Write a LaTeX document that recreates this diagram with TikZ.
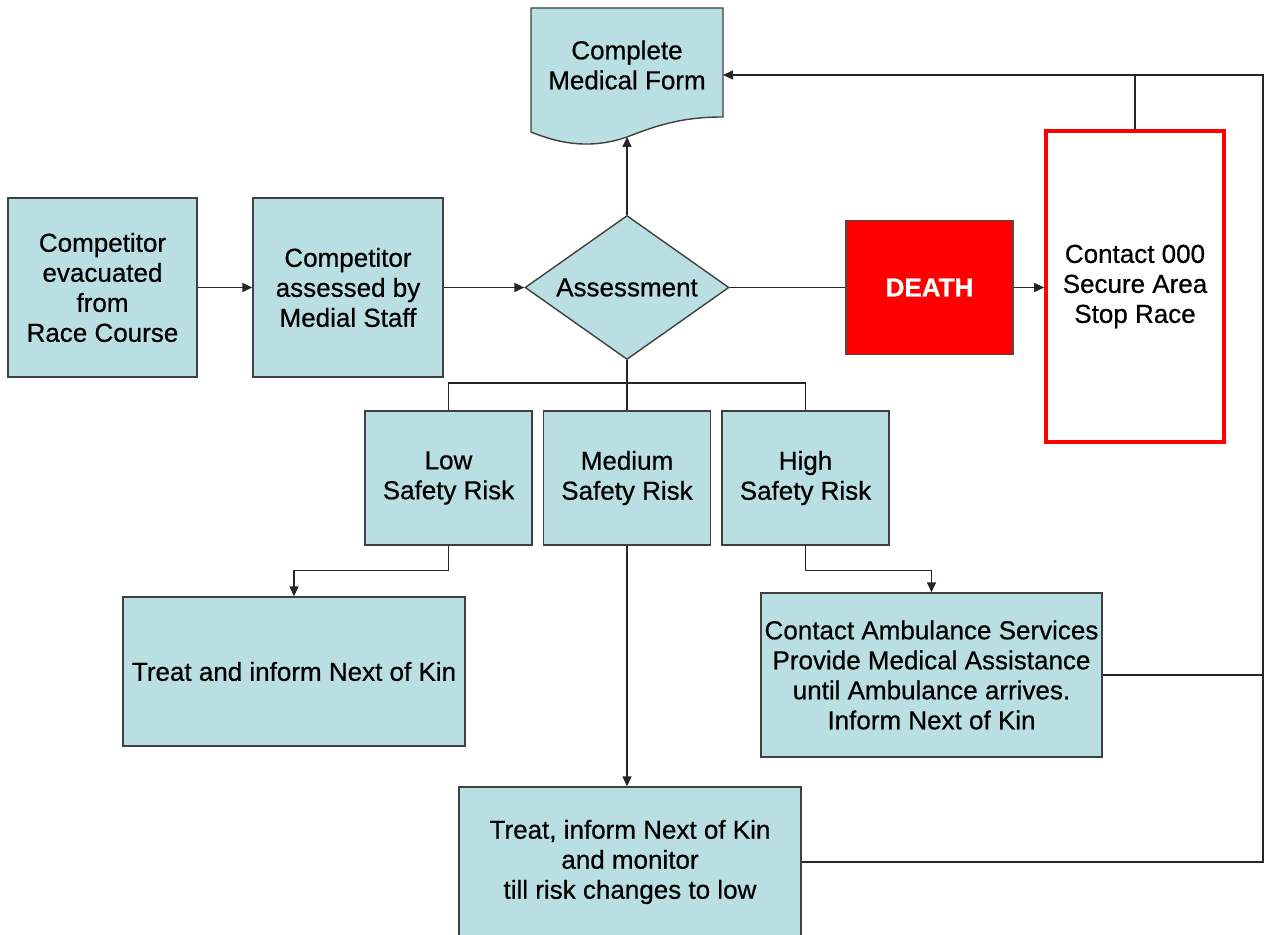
\documentclass[tikz,border=0pt]{standalone}
\usepackage{fontspec}
\setmainfont{Liberation Sans}[FakeBold=0.6]
\usetikzlibrary{shapes.geometric,arrows.meta}
\definecolor{boxfill}{RGB}{185,223,227}
\definecolor{deathred}{RGB}{255,0,0}
\begin{document}
\begin{tikzpicture}[x=0.5pt,y=-0.5pt,
  box/.style={draw=black!75, line width=0.7pt, fill=boxfill, align=center, inner sep=0pt,
    font=\fontsize{13}{15}\selectfont},
  conn/.style={draw=black!85, line width=0.75pt},
  arr/.style={conn, -{Triangle[length=5pt,width=4.5pt]}}]
\useasboundingbox (0,0) rectangle (1265,935);

% document shape
\coordinate (formtl) at (531,8);
\coordinate (formtr) at (723,8);
\coordinate (formbr) at (723,117);
\coordinate (formbl) at (531,132);
\coordinate (formbot) at (627,137);
\coordinate (formin) at (723,75);
\draw[draw=black!75, line width=0.7pt, fill=boxfill] (formbl) -- (formtl) -- (formtr) -- (formbr)
  .. controls (685,117) and (660,124) .. (formbot)
  .. controls (595,148) and (565,146) .. (formbl) -- cycle;
\node[align=center, font=\fontsize{13}{15}\selectfont] (form) at (627,65) {Complete\\Medical Form};

\node[box, minimum width=94.5pt, minimum height=89.5pt] (evac) at (102.5,287.5) {Competitor\\evacuated\\from\\Race Course};
\node[box, minimum width=95pt, minimum height=89.5pt] (assessed) at (348,287.5) {Competitor\\assessed by\\Medial Staff};
\node[box, shape=diamond, shape aspect=1.417, minimum width=102pt, minimum height=72pt] (dia) at (627,287.5) {Assessment};

\node[draw=black!70, line width=0.7pt, fill=deathred, text=white, inner sep=0pt,
  font=\fontsize{13}{15}\selectfont\bfseries, minimum width=83.5pt, minimum height=67pt] (death) at (929.5,287.5) {DEATH};
\node[draw=deathred, line width=1.8pt, fill=white, align=center, inner sep=0pt,
  font=\fontsize{13}{15}\selectfont, minimum width=89pt, minimum height=155.5pt] (contact) at (1135,286.5) {Contact 000\\Secure Area\\Stop Race};

\node[box, minimum width=83.5pt, minimum height=67pt] (low) at (448.5,478) {Low\\Safety Risk};
\node[box, minimum width=83.5pt, minimum height=67pt] (med) at (627,478) {Medium\\Safety Risk};
\node[box, minimum width=83.5pt, minimum height=67pt] (high) at (805.5,478) {High\\Safety Risk};

\node[box, minimum width=171pt, minimum height=74.5pt] (treat) at (294,671.5) {Treat and inform Next of Kin};
\node[box, minimum width=170.5pt, minimum height=82pt] (amb) at (931.5,675) {Contact Ambulance Services\\Provide Medical Assistance\\until Ambulance arrives.\\Inform Next of Kin};
\node[box, minimum width=171pt, minimum height=75pt] (bot) at (630,862) {Treat, inform Next of Kin\\and monitor\\till risk changes to low};

% connectors
\draw[arr] (evac.east) -- (assessed.west);
\draw[arr] (assessed.east) -- (dia.west);
\draw[arr] (dia.north) -- (formbot);
\draw[conn] (dia.east) -- (death.west);
\draw[arr] (death.east) -- (contact.west |- death.east);

\coordinate (topj) at (1135,75);
\coordinate (rtop) at (1263,75);
\coordinate (rbot) at (1263,862);
\draw[arr] (contact.north) -- (topj) -- (formin);
\draw[conn] (topj) -- (rtop) -- (rbot) -- (bot.east);
\draw[conn] (amb.east) -- (amb.east -| rtop);

\coordinate (tj) at (627,383);
\draw[conn] (dia.south) -- (tj);
\draw[conn] (low.north) |- (tj) -| (high.north);
\draw[conn] (tj) -- (med.north);

\draw[arr] (low.south) -- ++(0,25) -| (treat.north);
\draw[arr] (high.south) -- ++(0,25) -| (amb.north);
\draw[arr] (med.south) -- (med.south |- bot.north);
\end{tikzpicture}
\end{document}
